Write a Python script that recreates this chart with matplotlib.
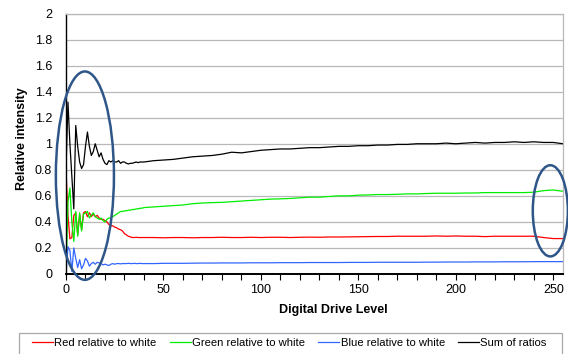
import matplotlib
matplotlib.use("Agg")
import matplotlib.pyplot as plt
from matplotlib.patches import Ellipse, Rectangle
from matplotlib.ticker import MultipleLocator, FixedLocator

plt.rcParams['font.family'] = ['Liberation Sans', 'DejaVu Sans']

# drive levels: every level up to 39, then every 5th level
levels = list(range(0, 40)) + list(range(40, 256, 5))

red = [0.80, 0.45, 0.27, 0.28, 0.45, 0.47, 0.30, 0.46, 0.34, 0.47,
       0.48, 0.44, 0.47, 0.44, 0.46, 0.44, 0.45, 0.43, 0.42, 0.42,
       0.41, 0.40, 0.38, 0.37, 0.37, 0.36, 0.355, 0.345, 0.34, 0.33,
       0.31, 0.30, 0.29, 0.285, 0.28, 0.28, 0.282, 0.28, 0.28, 0.28,
       # 40 .. 255 step 5
       0.28, 0.28, 0.278, 0.28, 0.28, 0.278, 0.28, 0.28, 0.282, 0.28,
       0.28, 0.282, 0.28, 0.282, 0.282, 0.28, 0.282, 0.283, 0.282, 0.284,
       0.284, 0.285, 0.286, 0.287, 0.288, 0.288, 0.29, 0.29, 0.29, 0.29,
       0.292, 0.29, 0.292, 0.29, 0.29, 0.287, 0.29, 0.29, 0.29, 0.29,
       0.29, 0.28, 0.272, 0.272]

green = [0.0, 0.55, 0.66, 0.40, 0.25, 0.48, 0.29, 0.47, 0.33, 0.46,
         0.47, 0.48, 0.43, 0.45, 0.47, 0.44, 0.43, 0.42, 0.43, 0.41,
         0.40, 0.42, 0.43, 0.43, 0.44, 0.45, 0.46, 0.47, 0.48, 0.48,
         0.485, 0.485, 0.49, 0.49, 0.495, 0.495, 0.50, 0.50, 0.505, 0.505,
         # 40 .. 255 step 5
         0.51, 0.515, 0.52, 0.525, 0.53, 0.54, 0.545, 0.548, 0.55, 0.555,
         0.56, 0.565, 0.57, 0.575, 0.577, 0.58, 0.585, 0.59, 0.59, 0.595,
         0.60, 0.60, 0.605, 0.607, 0.61, 0.61, 0.612, 0.615, 0.615, 0.618,
         0.62, 0.62, 0.62, 0.622, 0.622, 0.625, 0.625, 0.625, 0.625, 0.625,
         0.628, 0.64, 0.645, 0.635]

blue = [0.0, 0.21, 0.18, 0.02, 0.20, 0.12, 0.05, 0.11, 0.04, 0.07,
        0.12, 0.10, 0.06, 0.08, 0.09, 0.075, 0.09, 0.085, 0.08, 0.07,
        0.075, 0.07, 0.065, 0.075, 0.08, 0.075, 0.08, 0.08, 0.078, 0.08,
        0.08, 0.08, 0.082, 0.08, 0.08, 0.082, 0.08, 0.08, 0.082, 0.08,
        # 40 .. 255 step 5
        0.08, 0.08, 0.082, 0.082, 0.082, 0.083, 0.084, 0.084, 0.085, 0.085,
        0.085, 0.086, 0.086, 0.086, 0.087, 0.087, 0.087, 0.088, 0.088, 0.088,
        0.088, 0.089, 0.089, 0.089, 0.09, 0.09, 0.09, 0.09, 0.09, 0.091,
        0.091, 0.092, 0.092, 0.092, 0.093, 0.093, 0.093, 0.094, 0.094, 0.094,
        0.095, 0.095, 0.095, 0.095]

total = [0.80, 1.32, 1.00, 0.75, 0.50, 1.14, 0.98, 0.86, 0.81, 0.84,
         0.98, 1.09, 0.98, 0.91, 0.94, 1.00, 0.95, 0.90, 0.93, 0.88,
         0.85, 0.84, 0.87, 0.86, 0.87, 0.86, 0.86, 0.87, 0.85, 0.86,
         0.86, 0.85, 0.845, 0.85, 0.85, 0.855, 0.86, 0.855, 0.86, 0.86,
         # 40 .. 255 step 5
         0.86, 0.87, 0.875, 0.88, 0.89, 0.90, 0.905, 0.91, 0.92, 0.935,
         0.93, 0.94, 0.95, 0.955, 0.96, 0.96, 0.965, 0.97, 0.97, 0.975,
         0.98, 0.98, 0.985, 0.985, 0.99, 0.99, 0.995, 0.995, 1.0, 1.0,
         1.0, 1.005, 1.0, 1.005, 1.01, 1.005, 1.01, 1.01, 1.015, 1.01,
         1.015, 1.01, 1.01, 1.0]

ytick_labels = ['0', '0.2', '0.4', '0.6', '0.8', '1', '1.2', '1.4', '1.6', '1.8', '2']

W, H = 568, 354
fig = plt.figure(figsize=(W / 100, H / 100), dpi=100)
ax = fig.add_axes([66 / W, 1 - 274 / H, 497 / W, (274 - 13.5) / H])

ax.plot(levels, red, color='#ff0000', lw=0.9, label='Red relative to white')
ax.plot(levels, green, color='#00ee00', lw=0.9, label='Green relative to white')
ax.plot(levels, blue, color='#3366ff', lw=0.9, label='Blue relative to white')
ax.plot(levels, total, color='black', lw=0.9, label='Sum of ratios')

ax.set_xlim(0, 255)
ax.set_ylim(0, 2)
ax.set_yticks([i * 0.2 for i in range(11)])
ax.set_yticklabels(ytick_labels)
ax.grid(axis='y', color='#b8b8b8', lw=0.9)
ax.set_axisbelow(True)

ax.xaxis.set_major_locator(FixedLocator([0, 50, 100, 150, 200, 250]))
ax.xaxis.set_minor_locator(MultipleLocator(10))
ax.tick_params(axis='x', which='both', direction='out', length=4, width=0.8, labelsize=9, pad=3)
ax.tick_params(axis='y', length=0, labelsize=9, pad=10)

for side in ['left', 'bottom']:
    ax.spines[side].set_color('black')
ax.spines['left'].set_linewidth(1.0)
ax.spines['bottom'].set_linewidth(1.4)
for side in ['top', 'right']:
    ax.spines[side].set_color('#b8b8b8')
    ax.spines[side].set_linewidth(0.9)

ax.set_xlabel('Digital Drive Level', fontsize=9, fontweight='bold', va='center')
ax.xaxis.set_label_coords((333 - 66) / 497, (274 - 310) / 260.5)
ax.set_ylabel('Relative intensity', fontsize=9, fontweight='bold', va='center')
ax.yaxis.set_label_coords((22 - 66) / 497, (274 - 139) / 260.5)

# highlight the noisy low levels and the top end
ring = '#2f5688'
ax.add_patch(Ellipse((9.7, 0.755), 29.8, 1.60, fill=False, ec=ring, lw=1.8, clip_on=False, zorder=5))
ax.add_patch(Ellipse((248.5, 0.485), 18.0, 0.70, fill=False, ec=ring, lw=1.8, clip_on=False, zorder=5))

# legend row with its own box running off the bottom edge
fig.add_artist(Rectangle((19 / W, -0.05), 543 / W, 0.05 + 1 - 333 / H, transform=fig.transFigure,
                         fill=False, ec='#a8a8a8', lw=0.9))
fig.legend(loc='center left', bbox_to_anchor=(32 / W, 1 - 343 / H), ncol=4,
           fontsize=8.1, frameon=False, borderpad=0, borderaxespad=0,
           handlelength=1.85, handletextpad=0.15, columnspacing=1.15)

fig.savefig('out.png', dpi=100)
